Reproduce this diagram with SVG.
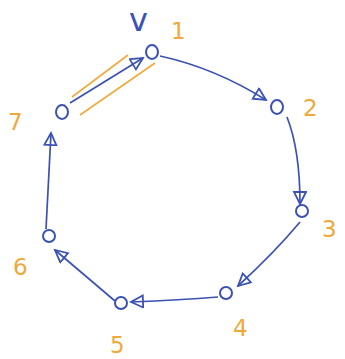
<svg xmlns="http://www.w3.org/2000/svg" width="345" height="359" viewBox="0 0 345 359">
<style>
.n{fill:none;stroke:#3b52b4;stroke-width:2}
.e{fill:none;stroke:#3b52b4;stroke-width:1.7;marker-end:url(#ah)}
.o{fill:none;stroke:#f0aa3c;stroke-width:1.6}
.lb{font-family:"DejaVu Sans",sans-serif;font-size:23px;fill:#f0a83a}
.v{font-family:"DejaVu Sans",sans-serif;font-size:32px;fill:#3b52b4}
</style>
<defs>
<marker id="ah" markerUnits="userSpaceOnUse" markerWidth="16" markerHeight="16" refX="13" refY="7" orient="auto">
<path d="M1,1 L13,7 L1,13 Z" fill="none" stroke="#3b52b4" stroke-width="1.8"/>
</marker>
</defs>
<rect width="345" height="359" fill="#ffffff"/>
<g id="connectors">
<path class="e" d="M160,56 Q215,68 266,100"/>
<path class="e" d="M287,117 Q300,150 300,204"/>
<path class="e" d="M300,222 Q275,252 238,286"/>
<path class="e" d="M218,297 Q180,300 131,302"/>
<path class="e" d="M115,301 L55,250"/>
<path class="e" d="M46,229 L51,133"/>
<path class="e" d="M70,103 L143,58"/>
</g>
<g id="orange-marks">
<path class="o" d="M72,97 L128,55"/>
<path class="o" d="M80,115 L155,63"/>
</g>
<g id="node1"><ellipse class="n" cx="152" cy="52" rx="6" ry="7"/><text class="v" x="129" y="31">v</text><text class="lb" x="171" y="39">1</text></g>
<g id="node2"><ellipse class="n" cx="277" cy="107" rx="6" ry="7"/><text class="lb" x="303" y="116">2</text></g>
<g id="node3"><ellipse class="n" cx="302" cy="211" rx="6" ry="6"/><text class="lb" x="322" y="237">3</text></g>
<g id="node4"><ellipse class="n" cx="226" cy="293" rx="6" ry="6"/><text class="lb" x="233" y="336">4</text></g>
<g id="node5"><ellipse class="n" cx="121" cy="303" rx="6" ry="6"/><text class="lb" x="110" y="353">5</text></g>
<g id="node6"><ellipse class="n" cx="49" cy="236" rx="6" ry="6"/><text class="lb" x="13" y="275">6</text></g>
<g id="node7"><ellipse class="n" cx="62" cy="112" rx="6" ry="7"/><text class="lb" x="8" y="130">7</text></g>
</svg>
